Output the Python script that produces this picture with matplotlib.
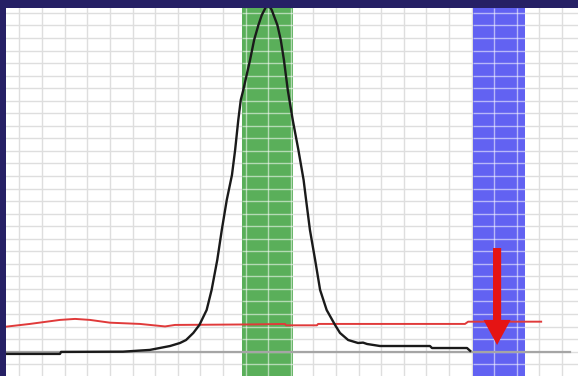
import matplotlib
matplotlib.use("Agg")
import matplotlib.pyplot as plt
import numpy as np

# ---- data (grid units: x = time divisions, y = signal divisions) ----
peak_x = [-0.60, 1.79, 1.84, 4.58, 5.77, 6.66, 7.10, 7.37, 7.69, 7.96, 8.28, 8.50,
          8.75, 8.95, 9.17, 9.40, 9.54, 9.68, 9.79, 9.90, 10.05, 10.20, 10.38,
          10.57, 10.72, 10.91, 11.04, 11.16, 11.41, 11.56, 11.70, 11.87, 12.09,
          12.34, 12.57, 12.68, 12.85, 13.08, 13.30, 13.59, 13.96, 14.18, 14.54,
          14.98, 15.20, 15.38, 15.95, 18.16, 18.25, 19.80, 19.94]
peak_y = [-0.18, -0.18, -0.02, 0.00, 0.14, 0.45, 0.69, 0.93, 1.49, 2.13, 3.32, 4.92,
          7.31, 9.70, 12.09, 14.08, 16.07, 18.46, 20.06, 20.85, 22.05, 23.24, 24.84,
          26.03, 26.83, 27.50, 27.60, 27.23, 26.03, 24.84, 23.24, 20.85, 18.46,
          16.07, 13.68, 12.09, 9.70, 7.31, 4.92, 3.32, 2.13, 1.49, 0.93,
          0.69, 0.72, 0.61, 0.45, 0.45, 0.29, 0.29, 0.06]

thr_x = [-0.60, 0.46, 1.79, 2.46, 3.12, 4.00, 5.33, 6.44, 6.88, 10.20, 11.75, 11.79,
         13.16, 13.21, 19.71, 19.85, 23.08]
thr_y = [1.99, 2.21, 2.53, 2.61, 2.53, 2.31, 2.21, 2.01, 2.13, 2.17, 2.21, 2.10,
         2.10, 2.21, 2.21, 2.39, 2.39]

base_x = [-0.60, 24.36]
base_y = [0.0, 0.0]

green_band = (9.85, 12.12)
blue_band = (20.05, 22.35)

arrow_x = 21.13
arrow_y = (8.26, 0.53)

xlim = (-0.597, 24.71)
ylim = (-1.94, 27.39)

# ---- figure ----
W, H = 578, 376
fig = plt.figure(figsize=(W / 100, H / 100), dpi=100)
fig.patch.set_facecolor("#262065")
ax = fig.add_axes([6 / W, 0, (W - 6) / W, (H - 8) / H])
ax.set_facecolor("white")
ax.set_xlim(*xlim)
ax.set_ylim(*ylim)
for s in ax.spines.values():
    s.set_visible(False)

gx = np.arange(0, 25)
gy = np.arange(-1, 28)
ax.set_xticks(gx)
ax.set_yticks(gy)
ax.tick_params(length=0, labelbottom=False, labelleft=False)
ax.set_axisbelow(True)
ax.grid(True, color="#dedede", linewidth=1.0)

for (b0, b1), col in [(green_band, "#5aaf5a"), (blue_band, "#6262f2")]:
    ax.axvspan(b0, b1, color=col, zorder=1, linewidth=0)
    inside = [g for g in gx if b0 < g < b1]
    ax.vlines(inside, ylim[0], ylim[1], color="white", alpha=0.55, linewidth=1.0, zorder=1.5)
    ax.hlines(gy, b0, b1, color="white", alpha=0.55, linewidth=1.0, zorder=1.5)

ax.plot(base_x, base_y, color="#a5a5a5", linewidth=1.6, zorder=2)
ax.plot(thr_x, thr_y, color="#e03a3a", linewidth=1.4, zorder=3)
ax.plot(peak_x, peak_y, color="#1a1a1a", linewidth=1.7, zorder=4,
        solid_joinstyle="round")

ax.arrow(arrow_x, arrow_y[0], 0, arrow_y[1] - arrow_y[0], width=0.36,
         head_width=1.2, head_length=2.0, length_includes_head=True,
         color="#e51414", linewidth=0, zorder=5)

fig.savefig("out.png", dpi=100, facecolor=fig.get_facecolor())
